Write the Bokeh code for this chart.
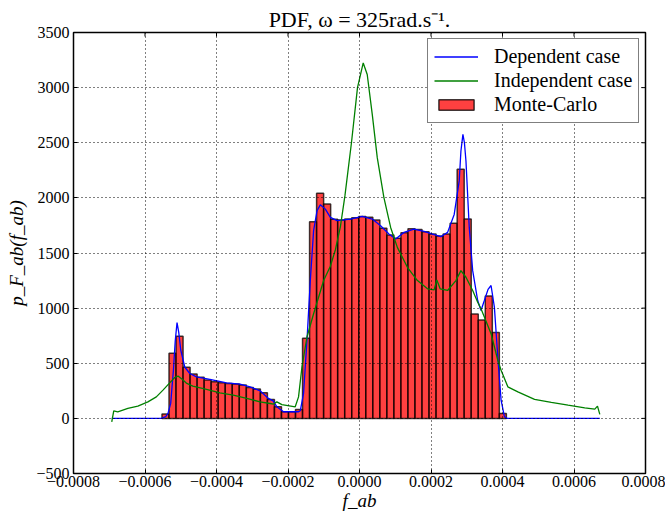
import math
import numpy as np
from bokeh.plotting import figure
from bokeh.models import (Range1d, FixedTicker, CustomJSTickFormatter,
                          Legend, LegendItem)
from bokeh.embed import file_html
from bokeh.resources import INLINE

# ---------------- data ----------------
mc_edge_min = -5.525e-4
mc_edge_max = 4.108e-4
mc_density = [40, 590, 746, 463, 402, 372, 347, 332, 323, 317,
              311, 302, 281, 266, 232, 172, 105, 60, 60, 80,
              726, 1784, 2041, 1945, 1805, 1799, 1808, 1820, 1830, 1824,
              1799, 1724, 1663, 1633, 1684, 1720, 1714, 1693, 1672, 1654,
              1672, 1769, 2259, 1808, 946, 892, 1110, 780, 45]

dep_x = [-6.930e-4, -5.542e-4, -5.421e-4, -5.357e-4, -5.281e-4, -5.244e-4, -5.205e-4,
         -5.155e-4, -5.104e-4, -5.056e-4, -5.000e-4, -4.888e-4, -4.747e-4, -4.559e-4,
         -4.185e-4, -3.716e-4, -3.343e-4, -3.062e-4, -2.781e-4, -2.548e-4, -2.407e-4,
         -2.312e-4, -2.126e-4, -1.705e-4, -1.657e-4, -1.565e-4, -1.469e-4, -1.376e-4,
         -1.284e-4, -1.188e-4, -1.096e-4, -9.55e-5, -8.15e-5, -6.26e-5, -2.53e-5,
         7.6e-6, 3.57e-5, 5.90e-5, 8.23e-5, 1.011e-4, 1.244e-4, 1.525e-4, 1.806e-4,
         2.087e-4, 2.275e-4, 2.464e-4, 2.649e-4, 2.789e-4, 2.837e-4, 2.893e-4,
         2.935e-4, 2.978e-4, 3.070e-4, 3.166e-4, 3.306e-4, 3.399e-4, 3.492e-4,
         3.596e-4, 3.680e-4, 3.773e-4, 3.868e-4, 3.961e-4, 4.053e-4, 4.129e-4, 6.722e-4]
dep_y = [0, 0, 15, 45, 136, 286, 437,
         700, 868, 780, 620, 466, 407, 376,
         353, 322, 310, 286, 250, 181, 156,
         105, 60, 60, 69, 226, 708, 1250,
         1702, 1883, 1937, 1898, 1823, 1793, 1808,
         1832, 1808, 1747, 1672, 1627, 1687, 1717, 1696,
         1666, 1648, 1687, 1850, 2154, 2425, 2576,
         2500, 2335, 1732, 1340, 1069, 979, 1069,
         1170, 1205, 1009, 557, 165, 15, 0, 0]

ind_x = [-6.930e-4, -6.874e-4, -6.761e-4, -6.480e-4, -6.200e-4, -5.919e-4, -5.683e-4,
         -5.497e-4, -5.309e-4, -5.169e-4, -5.076e-4, -4.944e-4, -4.831e-4, -4.663e-4,
         -4.278e-4, -3.905e-4, -3.531e-4, -3.155e-4, -2.781e-4, -2.500e-4, -2.407e-4,
         -2.312e-4, -2.171e-4, -1.798e-4, -1.705e-4, -1.610e-4, -1.469e-4, -1.284e-4,
         -1.003e-4, -8.15e-5, -6.74e-5, -5.34e-5, -4.07e-5, -2.25e-5, -5.6e-6,
         1.04e-5, 2.16e-5, 3.57e-5, 4.97e-5, 6.83e-5, 8.71e-5, 1.059e-4, 1.340e-4, 1.621e-4,
         1.902e-4, 2.087e-4, 2.163e-4, 2.256e-4, 2.464e-4, 2.697e-4, 2.837e-4,
         2.978e-4, 3.166e-4, 3.306e-4, 3.399e-4, 3.680e-4, 3.868e-4, 3.961e-4,
         4.149e-4, 4.430e-4, 4.896e-4, 5.365e-4, 5.834e-4, 6.301e-4, 6.582e-4,
         6.657e-4, 6.722e-4]
ind_y = [-31, 69, 60, 90, 111, 150, 195,
         256, 322, 371, 384, 350, 317, 293,
         263, 232, 211, 181, 150, 135, 130,
         150, 125, 105, 195, 466, 738, 949,
         1250, 1380, 1530, 1740, 2020, 2500, 3000,
         3224, 3119, 2757, 2365, 2003, 1732, 1551, 1370, 1250,
         1175, 1166, 1256, 1175, 1160, 1250, 1340,
         1280, 1160, 1054, 994, 768, 527, 437,
         286, 241, 172, 145, 120, 96, 84,
         111, 36]

x_ticks = [-0.0008, -0.0006, -0.0004, -0.0002, 0.0, 0.0002, 0.0004, 0.0006, 0.0008]
y_ticks = [-500, 0, 500, 1000, 1500, 2000, 2500, 3000, 3500]

legend_labels = ["Dependent case", "Independent case", "Monte-Carlo"]
title_text = "PDF, \u03c9 = 325rad.s\u207b\u00b9."
x_label = "f_ab"
y_label = "p_F_ab(f_ab)"

# ---------------- figure ----------------
SERIF = "Liberation Serif"
W, H = 665, 515
ML, MR, MT, MB = 73, 20, 32, 42

p = figure(width=W, height=H, output_backend="svg", toolbar_location=None,
           x_range=Range1d(x_ticks[0], x_ticks[-1]), y_range=Range1d(y_ticks[0], y_ticks[-1]),
           min_border_left=ML, min_border_right=MR, min_border_top=MT, min_border_bottom=MB,
           title=title_text)
p.background_fill_color = "white"
p.border_fill_color = "white"
p.outline_line_color = "black"
p.outline_line_width = 1.5

p.title.text_font = SERIF
p.title.text_font_size = "22px"
p.title.text_font_style = "normal"
p.title.text_color = "black"
p.title.align = "center"
p.title.standoff = 1

edges = np.linspace(mc_edge_min, mc_edge_max, len(mc_density) + 1)
r_mc = p.quad(left=edges[:-1], right=edges[1:], bottom=0, top=mc_density,
              fill_color="red", fill_alpha=0.75, line_color="black", line_alpha=0.75,
              line_width=1.5)
r_dep = p.line(dep_x, dep_y, line_color="blue", line_width=1.3)
r_ind = p.line(ind_x, ind_y, line_color="green", line_width=1.3)

xfmt = CustomJSTickFormatter(code="""
const s = Math.abs(tick).toFixed(4);
return (tick < -1e-12 ? "\u2212" : "") + s;
""")
yfmt = CustomJSTickFormatter(code="""
return (tick < 0 ? "\u2212" : "") + Math.abs(Math.round(tick)).toString();
""")

p.xaxis.ticker = FixedTicker(ticks=x_ticks)
p.yaxis.ticker = FixedTicker(ticks=y_ticks)
p.xaxis.formatter = xfmt
p.yaxis.formatter = yfmt
for ax in (p.xaxis[0], p.yaxis[0]):
    ax.major_tick_in = 4
    ax.major_tick_out = 0
    ax.minor_tick_in = 0
    ax.minor_tick_out = 0
    ax.major_tick_line_color = "black"
    ax.axis_line_color = None
    ax.major_label_text_font = SERIF
    ax.major_label_text_font_size = "16px"
    ax.major_label_text_color = "black"
    ax.axis_label_text_font = SERIF
    ax.axis_label_text_font_style = "italic"
    ax.axis_label_text_color = "black"
p.xaxis.axis_label = x_label
p.yaxis.axis_label = y_label
p.xaxis.axis_label_text_font_size = "19px"
p.yaxis.axis_label_text_font_size = "19px"
p.xaxis.major_label_standoff = 2
p.yaxis.major_label_standoff = 4
p.xaxis.axis_label_standoff = 0
p.yaxis.axis_label_standoff = 6

# inward tick marks on the top and right spines (half of each dash is clipped by the frame)
p.scatter(x=x_ticks, y=[y_ticks[-1]] * len(x_ticks), marker="dash", angle=math.pi / 2,
          size=8, line_color="black", line_width=1)
p.scatter(x=[x_ticks[-1]] * len(y_ticks), y=y_ticks, marker="dash",
          size=8, line_color="black", line_width=1)

p.xgrid.ticker = FixedTicker(ticks=x_ticks)
p.ygrid.ticker = FixedTicker(ticks=y_ticks)
for g in (p.xgrid[0], p.ygrid[0]):
    g.grid_line_color = "black"
    g.grid_line_dash = "1 3"
    g.grid_line_width = 1
    g.level = "guide"

legend = Legend(items=[LegendItem(label=legend_labels[0], renderers=[r_dep]),
                       LegendItem(label=legend_labels[1], renderers=[r_ind]),
                       LegendItem(label=legend_labels[2], renderers=[r_mc])],
                location=(354, 350))
legend.label_text_font = SERIF
legend.label_text_font_size = "20px"
legend.label_text_color = "black"
legend.glyph_width = 44
legend.glyph_height = 13
legend.label_standoff = 16
legend.label_height = 22
legend.padding = 6
legend.spacing = 1
legend.margin = 0
legend.border_line_color = "black"
legend.border_line_width = 1
legend.background_fill_alpha = 1.0
p.add_layout(legend)

with open("out.html", "w", encoding="utf-8") as f:
    f.write(file_html(p, INLINE))
